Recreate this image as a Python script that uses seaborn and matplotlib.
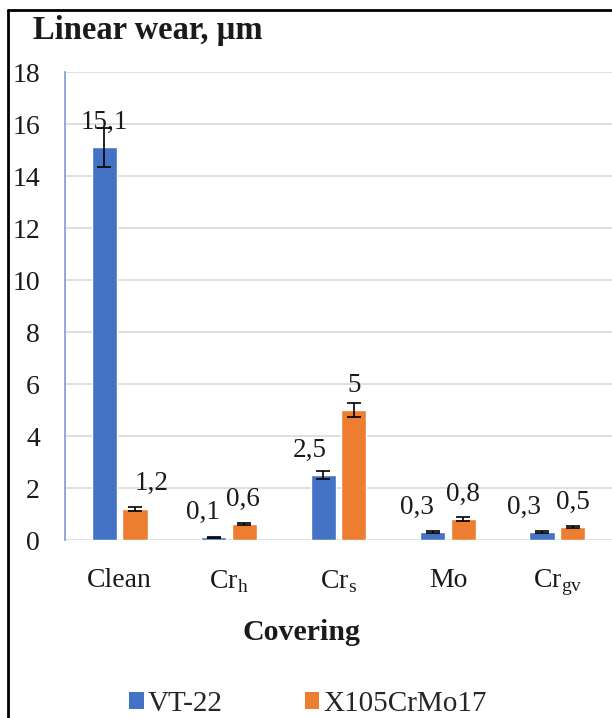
import matplotlib
matplotlib.use("Agg")
import matplotlib.pyplot as plt
import seaborn as sns
import pandas as pd
import numpy as np
from matplotlib.lines import Line2D
from matplotlib.patches import Patch

categories = ["Clean", "Cr$_\\mathregular{h}$", "Cr$_\\mathregular{s}$", "Mo", "Cr$_\\mathregular{gv}$"]
series_names = ["VT-22", "X105CrMo17"]
vt22 = [15.1, 0.1, 2.5, 0.3, 0.3]
x105 = [1.2, 0.6, 5.0, 0.8, 0.5]
vt22_err = [0.75, 0.02, 0.15, 0.04, 0.04]
x105_err = [0.08, 0.04, 0.27, 0.08, 0.04]
y_ticks = [0, 2, 4, 6, 8, 10, 12, 14, 16, 18]
colors = ["#4472C4", "#ED7D31"]

# horizontal nudges (points) of the value labels, as placed in the original
label_dx = {"VT-22": [0, -8, -10, -11, -13], "X105CrMo17": [12, -1, 0, 0, 0]}

sns.set_theme(style="white")
plt.rcParams['font.family'] = ['Liberation Serif', 'DejaVu Serif']
plt.rcParams['mathtext.fontset'] = 'custom'
plt.rcParams['mathtext.rm'] = 'Liberation Serif'

df = pd.DataFrame({
    "cat": categories * 2,
    "series": [series_names[0]] * 5 + [series_names[1]] * 5,
    "value": vt22 + x105,
    "err": vt22_err + x105_err,
})

W, H = 612, 718
fig = plt.figure(figsize=(W / 100, H / 100), dpi=100)
ax_left, ax_right, ax_top, ax_bot = 65, 612, 72, 540
ax = fig.add_axes([ax_left / W, (H - ax_bot) / H, (ax_right - ax_left) / W, (ax_bot - ax_top) / H])

sns.barplot(data=df, x="cat", y="value", hue="series", order=categories,
            hue_order=series_names, palette=colors, width=0.56, gap=0.18,
            errorbar=None, ax=ax, legend=False, saturation=1)

txt_color = "#1a1a1a"
for container, name in zip(ax.containers, series_names):
    sub = df[df.series == name].set_index("cat").loc[categories]
    xs = [p.get_x() + p.get_width() / 2 for p in container.patches]
    ax.errorbar(xs, sub["value"].values, yerr=sub["err"].values, fmt="none",
                ecolor="black", elinewidth=1.2, capsize=5, capthick=1.2, zorder=5)
    for x, v, dx in zip(xs, sub["value"].values, label_dx[name]):
        lab = f"{v:g}".replace(".", ",")
        ax.annotate(lab, (x, v), xytext=(dx, 18), textcoords="offset points",
                    ha="center", va="center", fontsize=19.5, color=txt_color)

ax.set_xlim(-0.5, 4.5)
ax.set_ylim(0, 18)
ax.set_yticks(y_ticks)
ax.set_yticklabels([str(t) for t in y_ticks], fontsize=20, color=txt_color)
ax.tick_params(axis="y", length=0, pad=18)
ax.tick_params(axis="x", length=0, pad=20, labelsize=20, labelcolor=txt_color)
ax.yaxis.grid(True, color="#D9D9D9", linewidth=1.2)
ax.set_axisbelow(True)
for s in ["top", "right", "bottom"]:
    ax.spines[s].set_visible(False)
ax.spines["left"].set_color("#7F9CD6")
ax.spines["left"].set_linewidth(1.2)
ax.set_xlabel("")
ax.set_ylabel("")

fig.text(33 / W, 1 - 30 / H, "Linear wear, µm", fontsize=23.5, fontweight="bold",
         ha="left", va="center", color=txt_color)
fig.text(301 / W, 1 - 632 / H, "Covering", fontsize=21.5, fontweight="bold",
         ha="center", va="center", color=txt_color)

handles = [Patch(facecolor=c, edgecolor="none") for c in colors]
fig.legend(handles, series_names, loc="center", bbox_to_anchor=(308 / W, 1 - 704 / H),
           ncol=2, frameon=False, fontsize=21, handlelength=0.5, handleheight=0.5,
           handletextpad=0.15, columnspacing=2.8, borderpad=0, borderaxespad=0)

fig.add_artist(Line2D([8 / W, 8 / W], [0, 1 - 10 / H], color="black", linewidth=2,
                      transform=fig.transFigure))
fig.add_artist(Line2D([8 / W, 1], [1 - 10 / H, 1 - 10 / H], color="black", linewidth=2,
                      transform=fig.transFigure))

fig.savefig("out.png", dpi=100, facecolor="white")
